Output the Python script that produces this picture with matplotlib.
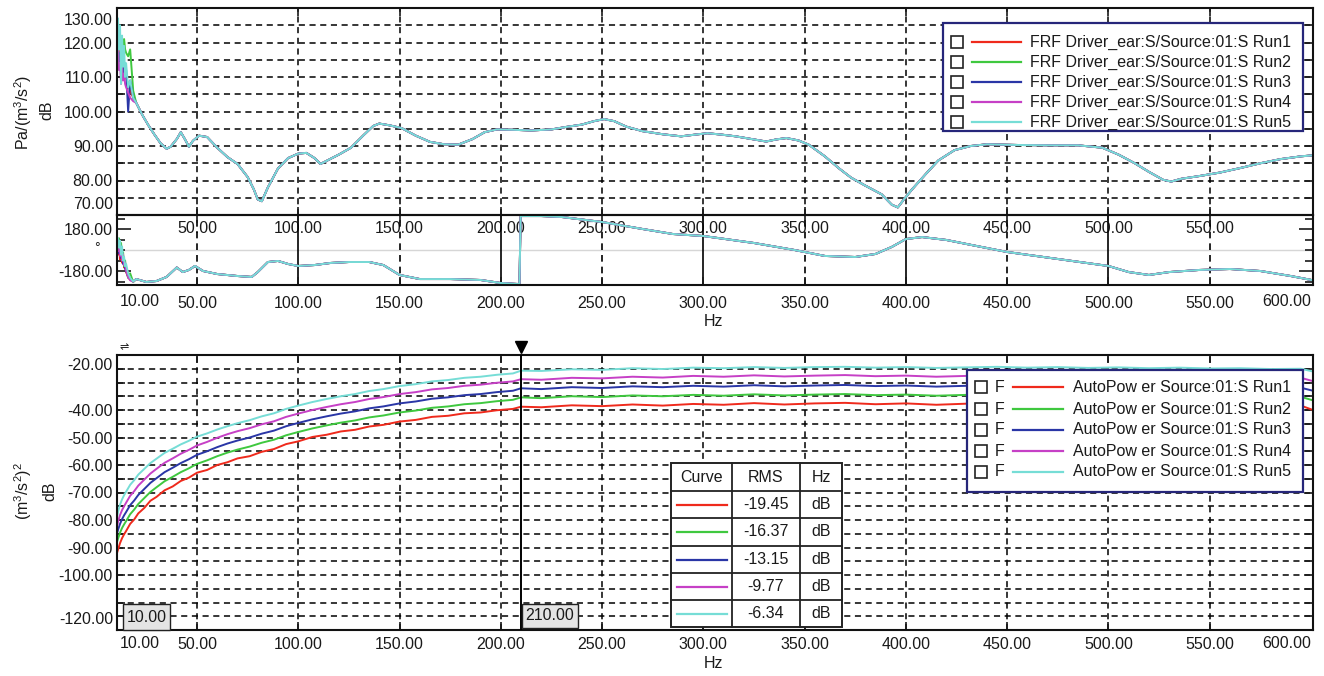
import matplotlib
matplotlib.use('Agg')
import matplotlib.pyplot as plt
from matplotlib.patches import Rectangle
from matplotlib.lines import Line2D
from matplotlib.transforms import ScaledTranslation

FS = 11.5
plt.rcParams['font.family'] = ['Liberation Sans', 'DejaVu Sans']
plt.rcParams['font.size'] = FS
plt.rcParams['mathtext.default'] = 'regular'
plt.rcParams['text.color'] = '#1a1a1a'
plt.rcParams['xtick.color'] = '#1a1a1a'
plt.rcParams['ytick.color'] = '#1a1a1a'

W, H = 1324, 676

# ── Data ──────────────────────────────────────────────────────────────────────
RUN_COLORS = ['#ef2a1c', '#3fc83f', '#2a36a6', '#c640c6', '#76ddd6']
FRF_LABELS = ['FRF Driver_ear:S/Source:01:S Run1', 'FRF Driver_ear:S/Source:01:S Run2',
              'FRF Driver_ear:S/Source:01:S Run3', 'FRF Driver_ear:S/Source:01:S Run4',
              'FRF Driver_ear:S/Source:01:S Run5']
AP_LABELS = ['AutoPow er Source:01:S Run1', 'AutoPow er Source:01:S Run2',
             'AutoPow er Source:01:S Run3', 'AutoPow er Source:01:S Run4',
             'AutoPow er Source:01:S Run5']
RMS_DB = [-19.45, -16.37, -13.15, -9.77, -6.34]
CURSOR_HZ = 210.0
XLIM = (10.5, 601)

# low-frequency start of every run (noisy part, 10-19 Hz)
LOW_HZ = [10.5, 11, 11.5, 12, 12.5, 13, 13.5, 14, 14.5, 15, 16, 17, 18.5]
FRF_LOW_RUN1 = [117, 120, 116, 118, 114, 116, 113, 112, 111, 110, 108, 106, 104]
FRF_LOW_RUN2 = [120, 122, 119, 121, 118, 120, 119, 121, 118, 117, 116, 118, 106]
FRF_LOW_RUN3 = [118, 115, 117, 113, 115, 112, 114, 111, 110, 112, 100, 109, 104]
FRF_LOW_RUN4 = [115, 118, 112, 114, 108, 113, 109, 111, 108, 107, 105.5, 104, 103]
FRF_LOW_RUN5 = [112, 127, 118, 125, 108, 122, 113, 119, 110, 114, 107, 109, 104]

PH_LOW_RUN1 = [30, -40, 50, -80, 0, -110, -60, -150, -120, -190, -230, -255, -270]
PH_LOW_RUN2 = [80, 10, 100, -30, 60, -60, -20, -140, -90, -170, -240, -200, -275]
PH_LOW_RUN3 = [20, 70, -30, 40, -70, -20, -120, -90, -160, -180, -225, -250, -268]
PH_LOW_RUN4 = [50, -10, 80, -50, 30, -90, -40, -130, -110, -175, -235, -260, -272]
PH_LOW_RUN5 = [60, 100, 20, 80, -40, 30, -90, -60, -140, -120, -200, -240, -270]

# FRF magnitude (all runs overlap above 20 Hz)
FRF_HZ = [20, 23, 26, 29, 32, 35, 37, 40, 42, 44, 46, 48, 51, 55, 60, 65, 70, 75, 78, 80,
          82, 85, 90, 95, 100, 104, 108, 111, 115, 120, 126, 132, 137, 140, 145, 151, 158,
          165, 172, 179, 186, 192, 198, 206, 215, 225, 232, 240, 246, 251, 256, 262, 270,
          280, 289, 296, 302, 309, 316, 324, 331, 336, 341, 347, 352, 360, 367, 373, 380,
          388, 393, 396, 399, 403, 410, 416, 424, 432, 440, 455, 470, 485, 497, 505, 513,
          520, 527, 531, 536, 545, 555, 565, 575, 585, 595, 603]
FRF_DB = [102.5, 99.0, 96.0, 93.3, 90.8, 89.2, 89.8, 92.0, 94.0, 92.0, 89.8, 91.5, 93.0,
          92.6, 89.5, 86.8, 84.8, 81.0, 77.5, 74.5, 74.0, 78.0, 83.5, 86.5, 87.8, 88.0,
          86.5, 84.8, 86.0, 87.5, 89.5, 93.0, 95.8, 96.5, 96.0, 95.2, 93.0, 91.2, 90.5,
          90.4, 92.0, 94.0, 94.8, 94.7, 94.5, 94.8, 95.5, 96.2, 97.2, 97.8, 97.2, 95.6,
          94.3, 93.4, 92.8, 93.3, 93.7, 93.3, 92.8, 92.0, 91.3, 91.9, 92.3, 91.6, 90.4,
          87.0, 83.5, 80.8, 78.5, 76.0, 73.0, 72.2, 74.5, 77.4, 82.0, 85.8, 88.8, 90.0,
          90.5, 90.3, 90.2, 90.2, 89.5, 87.5, 85.0, 82.5, 80.2, 79.7, 80.5, 81.3, 82.3,
          83.6, 85.0, 86.2, 87.0, 87.4]

# FRF phase, degrees
PHASE_HZ = [20, 25, 30, 35, 40, 43, 46, 49, 53, 60, 70, 77, 80, 85, 90, 95, 100, 108, 116,
            125, 135, 142, 150, 160, 175, 190, 200, 208, 209.2, 209.8, 220, 230, 250, 270,
            285, 300, 325, 345, 360, 375, 385, 393, 400, 408, 420, 435, 450, 475, 500, 510,
            520, 530, 545, 560, 575, 590, 603]
PHASE_DEG = [-249, -274, -266, -231, -150, -189, -171, -137, -180, -206, -223, -231, -189,
             -103, -94, -120, -137, -129, -111, -103, -103, -129, -214, -249, -249, -257,
             -283, -291, -291, 291, 291, 283, 240, 180, 137, 120, 60, 0, -51, -60, -34, 26,
             94, 111, 86, 34, -17, -77, -137, -189, -214, -189, -171, -163, -180, -223, -266]

# AutoPower spectra, dB
AP_HZ = [10.5, 11, 12, 13, 14, 15, 17, 19, 21, 24, 27, 30, 34, 38, 42, 46, 50, 55, 60, 65,
         70, 76, 82, 88, 94, 100, 107, 114, 121, 128, 135, 142, 150, 158, 166, 174, 182,
         190, 198, 206, 210, 220, 235, 250, 265, 280, 295, 310, 325, 340, 355, 370, 385,
         400, 415, 430, 445, 460, 475, 490, 505, 520, 535, 550, 565, 580, 595, 601]
AP_RUN1 = [-92.0, -90.8, -88.4, -86.6, -85.2, -84.0, -81.4, -79.8, -77.6, -75.6, -73.0,
           -71.6, -69.2, -67.8, -65.8, -64.6, -62.8, -61.8, -60.0, -59.0, -57.6, -56.8,
           -55.2, -54.2, -52.4, -51.4, -49.8, -49.0, -47.8, -47.2, -46.0, -45.4, -44.2,
           -43.6, -42.5, -42.1, -41.2, -40.9, -40.1, -39.6, -38.8, -39.0, -38.3, -38.6,
           -38.0, -38.4, -37.8, -38.1, -37.5, -38.0, -37.6, -37.4, -37.9, -37.6, -38.1,
           -37.7, -37.5, -38.0, -37.7, -38.1, -37.8, -38.2, -37.9, -38.4, -38.1, -38.6,
           -38.4, -40.0]
AP_RUN2 = [-88.0, -86.8, -84.6, -82.9, -81.6, -80.4, -77.9, -76.2, -74.2, -72.0, -69.8,
           -68.1, -65.9, -64.3, -62.6, -61.2, -59.6, -58.3, -56.8, -55.5, -54.4, -53.3,
           -51.9, -50.8, -49.2, -48.0, -46.7, -45.6, -44.6, -43.8, -42.7, -42.0, -40.9,
           -40.2, -39.2, -38.7, -37.9, -37.5, -36.8, -36.3, -35.4, -35.7, -35.0, -35.3,
           -34.7, -35.0, -34.5, -34.8, -34.3, -34.7, -34.4, -34.2, -34.6, -34.4, -34.8,
           -34.5, -34.3, -34.7, -34.5, -34.8, -34.6, -34.9, -34.7, -35.1, -34.9, -35.3,
           -35.2, -36.5]
AP_RUN3 = [-85.0, -83.6, -81.4, -79.7, -78.3, -77.1, -74.6, -72.9, -70.9, -68.7, -66.5,
           -64.8, -62.6, -61.0, -59.3, -57.9, -56.3, -55.0, -53.5, -52.2, -51.1, -50.0,
           -48.6, -47.5, -45.9, -44.7, -43.4, -42.3, -41.3, -40.5, -39.4, -38.7, -37.6,
           -36.9, -35.9, -35.4, -34.6, -34.2, -33.5, -33.0, -32.1, -32.4, -31.7, -32.0,
           -31.4, -31.7, -31.2, -31.5, -31.0, -31.4, -31.1, -30.9, -31.3, -31.1, -31.5,
           -31.2, -31.0, -31.4, -31.2, -31.5, -31.3, -31.6, -31.4, -31.8, -31.6, -32.0,
           -31.9, -33.0]
AP_RUN4 = [-82.5, -80.6, -78.2, -76.4, -75.0, -73.7, -71.2, -69.5, -67.5, -65.3, -63.1,
           -61.4, -59.2, -57.6, -55.9, -54.5, -52.9, -51.6, -50.1, -48.8, -47.7, -46.6,
           -45.2, -44.1, -42.5, -41.3, -40.0, -38.9, -37.9, -37.1, -36.0, -35.3, -34.2,
           -33.5, -32.5, -32.0, -31.2, -30.8, -30.1, -29.6, -28.8, -29.0, -28.3, -28.5,
           -27.9, -28.2, -27.6, -27.9, -27.4, -27.8, -27.5, -27.3, -27.7, -27.5, -27.9,
           -27.6, -27.4, -27.8, -27.6, -27.9, -27.7, -28.0, -27.8, -28.2, -28.0, -28.4,
           -28.3, -29.5]
AP_RUN5 = [-79.0, -77.0, -74.4, -72.5, -71.0, -69.7, -67.2, -65.5, -63.5, -61.4, -59.3,
           -57.7, -55.6, -54.1, -52.5, -51.2, -49.7, -48.5, -47.1, -45.9, -44.8, -43.7,
           -42.3, -41.2, -39.6, -38.4, -37.1, -36.0, -35.0, -34.2, -33.1, -32.4, -31.3,
           -30.6, -29.6, -29.1, -28.3, -27.9, -27.2, -26.7, -25.7, -25.8, -25.2, -25.4,
           -24.8, -25.1, -24.6, -24.8, -24.4, -24.7, -24.4, -24.3, -24.6, -24.4, -24.7,
           -24.5, -24.3, -24.6, -24.4, -24.7, -24.5, -24.8, -24.6, -24.9, -24.8, -25.1,
           -25.0, -26.0]

FRF_LOW = [FRF_LOW_RUN1, FRF_LOW_RUN2, FRF_LOW_RUN3, FRF_LOW_RUN4, FRF_LOW_RUN5]
PH_LOW = [PH_LOW_RUN1, PH_LOW_RUN2, PH_LOW_RUN3, PH_LOW_RUN4, PH_LOW_RUN5]
AP_RUNS = [AP_RUN1, AP_RUN2, AP_RUN3, AP_RUN4, AP_RUN5]


# ── Helpers (pixel layout, origin top-left) ───────────────────────────────────
def rect(l, t, r, b):
    return [l / W, 1 - b / H, (r - l) / W, (b - t) / H]


def fx(x):
    return x / W


def fy(y):
    return 1 - y / H


DASH = (0, (4, 3))
GRID_KW = dict(color='black', linestyle=DASH, linewidth=1.1)


def style_axes(ax):
    for s in ax.spines.values():
        s.set_linewidth(1.5)
        s.set_color('#111111')
    ax.tick_params(which='both', direction='in', top=True, right=True,
                   length=6, width=1.2, labelsize=FS)


def edge_ylabel(ax, yval, text, dy):
    ax.annotate(text, xy=(0, yval), xycoords=('axes fraction', 'data'),
                xytext=(-4, dy), textcoords='offset pixels',
                ha='right', va='center', fontsize=FS)


def edge_xlabels(ax, dy):
    ax.annotate('10.00', xy=(0, 0), xycoords='axes fraction', xytext=(3, dy),
                textcoords='offset pixels', ha='left', va='center', fontsize=FS)
    ax.annotate('600.00', xy=(1, 0), xycoords='axes fraction', xytext=(-2, dy),
                textcoords='offset pixels', ha='right', va='center', fontsize=FS)


fig = plt.figure(figsize=(W / 100, H / 100), dpi=100)
ax_mag = fig.add_axes(rect(117, 8, 1313, 215))
ax_ph = fig.add_axes(rect(117, 215, 1313, 285))
ax_ap = fig.add_axes(rect(117, 355, 1313, 630))

# ── FRF magnitude ─────────────────────────────────────────────────────────────
for i in range(5):
    ax_mag.plot(LOW_HZ + FRF_HZ, FRF_LOW[i] + FRF_DB, color=RUN_COLORS[i], lw=1.4)
ax_mag.set_xlim(XLIM)
ax_mag.set_ylim(70, 130)
yt = list(range(70, 131, 5))
ax_mag.set_yticks(yt)
ax_mag.set_yticklabels(['%.2f' % v if v % 10 == 0 and v not in (70, 130) else '' for v in yt])
xt = list(range(50, 551, 50))
ax_mag.set_xticks(xt)
ax_mag.set_xticklabels(['%.2f' % v for v in xt])
style_axes(ax_mag)
ax_mag.tick_params(axis='x', pad=4)
ax_mag.tick_params(axis='y', pad=3)
ax_mag.grid(True, **GRID_KW)
edge_ylabel(ax_mag, 130, '130.00', -12)
edge_ylabel(ax_mag, 70, '70.00', 11)

# ── FRF phase ─────────────────────────────────────────────────────────────────
ax_ph.patch.set_visible(False)
for i in range(5):
    ax_ph.plot(LOW_HZ + PHASE_HZ, PH_LOW[i] + PHASE_DEG, color=RUN_COLORS[i], lw=1.4)
ax_ph.set_xlim(XLIM)
ax_ph.set_ylim(-300, 300)
ax_ph.set_yticks([-180, 180])
ax_ph.set_yticklabels(['-180.00', '180.00'])
ax_ph.set_yticks([-270, -90, 0, 90, 270], minor=True)
ax_ph.set_xticks(xt)
ax_ph.set_xticklabels(['%.2f' % v for v in xt])
style_axes(ax_ph)
ax_ph.tick_params(axis='x', pad=8)
ax_ph.tick_params(axis='y', which='major', length=10, pad=3)
ax_ph.tick_params(axis='y', which='minor', length=6)
ax_ph.axhline(0, color='#d6d6d6', lw=1.0, zorder=0)
for hz in xt:
    ax_ph.axvline(hz, color='black', lw=1.2, zorder=0,
                  linestyle='-' if hz % 100 == 0 else DASH)
edge_xlabels(ax_ph, -17)
fig.text(fx(97), fy(248), '°', ha='center', va='center', fontsize=10)

fig.text(fx(23), fy(112), 'Pa/(m$^{3}$/s$^{2}$)', rotation=90, ha='center', va='center', fontsize=FS)
fig.text(fx(47), fy(110), 'dB', rotation=90, ha='center', va='center', fontsize=FS)
fig.text(fx(713), fy(322), 'Hz', ha='center', va='center', fontsize=FS)

# ── AutoPower ─────────────────────────────────────────────────────────────────
for i in range(5):
    ax_ap.plot(AP_HZ, AP_RUNS[i], color=RUN_COLORS[i], lw=1.4)
ax_ap.set_xlim(XLIM)
ax_ap.set_ylim(-120, -20)
yt2 = list(range(-120, -19, 5))
ax_ap.set_yticks(yt2)
shown = [-40, -50, -60, -70, -80, -90, -100]
ax_ap.set_yticklabels(['%.2f' % v if v in shown else '' for v in yt2])
ax_ap.set_xticks(xt)
ax_ap.set_xticklabels(['%.2f' % v for v in xt])
style_axes(ax_ap)
ax_ap.tick_params(axis='x', pad=5)
ax_ap.tick_params(axis='y', pad=3)
ax_ap.grid(True, **GRID_KW)
edge_ylabel(ax_ap, -20, '-20.00', -11)
edge_ylabel(ax_ap, -120, '-120.00', 10)
edge_xlabels(ax_ap, -14)

# cursor
ax_ap.axvline(CURSOR_HZ, color='black', lw=1.4, zorder=4)
tri = ax_ap.transData + ScaledTranslation(0, 0.08, fig.dpi_scale_trans)
ax_ap.plot([CURSOR_HZ], [-20], marker='v', ms=9, color='black', clip_on=False,
           transform=tri, zorder=5)
fig.text(fx(124), fy(347), '⇌', ha='center', va='center', fontsize=8,
         family=['DejaVu Sans'])

fig.text(fx(23), fy(491), '(m$^{3}$/s$^{2}$)$^{2}$', rotation=90, ha='center', va='center', fontsize=FS)
fig.text(fx(50), fy(491), 'dB', rotation=90, ha='center', va='center', fontsize=FS)
fig.text(fx(713), fy(663), 'Hz', ha='center', va='center', fontsize=FS)


def box_label(l, t, r, b, text):
    fig.add_artist(Rectangle((fx(l), fy(b)), fx(r - l), (b - t) / H, transform=fig.transFigure,
                             facecolor='#e4e4e4', edgecolor='#222222', lw=1.0, zorder=6))
    fig.text(fx((l + r) / 2), fy((t + b) / 2), text, ha='center', va='center',
             fontsize=FS, zorder=7)


box_label(123, 604, 170, 630, '10.00')
box_label(522, 604, 578, 628, '%.2f' % CURSOR_HZ)


# ── Legends ───────────────────────────────────────────────────────────────────
def legend(box, rows, labels, check_x, f_x, line_x, text_x):
    l, t, r, b = box
    fig.add_artist(Rectangle((fx(l), fy(b)), fx(r - l), (b - t) / H, transform=fig.transFigure,
                             facecolor='white', edgecolor='#26267a', lw=1.6, zorder=6))
    for y, lab, c in zip(rows, labels, RUN_COLORS):
        fig.add_artist(Rectangle((fx(check_x), fy(y + 6)), fx(12), 12 / H,
                                 transform=fig.transFigure, facecolor='white',
                                 edgecolor='#222222', lw=1.2, zorder=7))
        if f_x is not None:
            fig.text(fx(f_x), fy(y), 'F', ha='left', va='center', fontsize=FS, zorder=7)
        fig.add_artist(Line2D([fx(line_x[0]), fx(line_x[1])], [fy(y), fy(y)],
                              transform=fig.transFigure, color=c, lw=1.6, zorder=7))
        fig.text(fx(text_x), fy(y), lab, ha='left', va='center', fontsize=FS, zorder=7)


legend((943, 23, 1303, 131), [42, 62, 82, 102, 122], FRF_LABELS, 951, None, (972, 1021), 1030)
legend((967, 370, 1303, 492), [387, 409, 430, 451, 472], AP_LABELS, 975, 995, (1013, 1063), 1073)

# ── RMS table ─────────────────────────────────────────────────────────────────
cols = [671, 732, 800, 842]
rows = [463, 491, 518, 546, 573, 600, 627]
fig.add_artist(Rectangle((fx(cols[0]), fy(rows[-1])), fx(cols[-1] - cols[0]),
                         (rows[-1] - rows[0]) / H, transform=fig.transFigure,
                         facecolor='white', edgecolor='#222222', lw=1.4, zorder=6))
for x in cols[1:-1]:
    fig.add_artist(Line2D([fx(x), fx(x)], [fy(rows[0]), fy(rows[-1])],
                          transform=fig.transFigure, color='#222222', lw=1.3, zorder=7))
for y in rows[1:-1]:
    fig.add_artist(Line2D([fx(cols[0]), fx(cols[-1])], [fy(y), fy(y)],
                          transform=fig.transFigure, color='#222222', lw=1.3, zorder=7))
for txt, a, b in zip(['Curve', 'RMS', 'Hz'], cols[:-1], cols[1:]):
    fig.text(fx((a + b) / 2), fy((rows[0] + rows[1]) / 2), txt, ha='center', va='center',
             fontsize=FS, zorder=8)
for k, (val, c) in enumerate(zip(RMS_DB, RUN_COLORS)):
    yc = (rows[k + 1] + rows[k + 2]) / 2
    fig.add_artist(Line2D([fx(677), fx(727)], [fy(yc), fy(yc)], transform=fig.transFigure,
                          color=c, lw=1.6, zorder=8))
    fig.text(fx(766), fy(yc), '%.2f' % val, ha='center', va='center', fontsize=FS, zorder=8)
    fig.text(fx(821), fy(yc), 'dB', ha='center', va='center', fontsize=FS, zorder=8)

fig.savefig('out.png', dpi=100)
